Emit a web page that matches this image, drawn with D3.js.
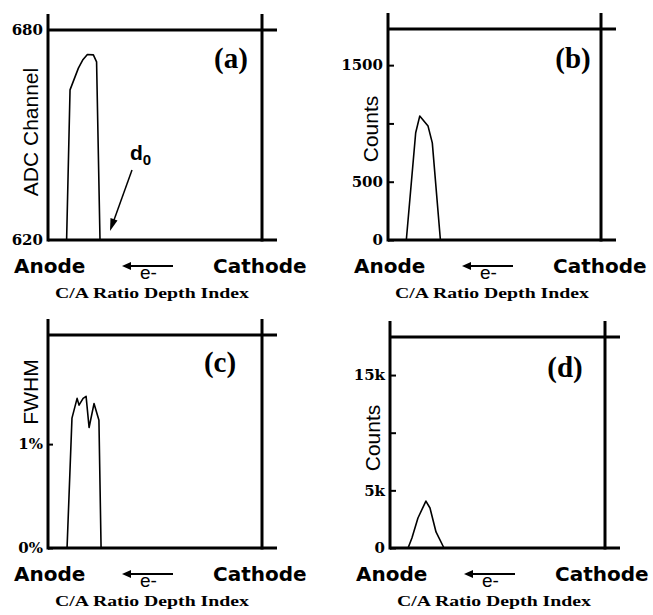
<!DOCTYPE html>
<html>
<head>
<meta charset="utf-8">
<script src="https://cdn.jsdelivr.net/npm/d3@7"></script>
<style>
body { margin: 0; background: #fff; }
</style>
</head>
<body>
<svg class="chart"></svg>
<script>
let width = 653,
  height = 615;

// depth index (0 = anode, 100 = cathode) and values
const depthA = [8.7, 10.3, 14.2, 16.2, 18.4, 21.2, 22.7, 24.3];
const adcA = [620, 662.9, 669.1, 671.4, 673.0, 672.9, 670.9, 620];

const depthB = [8.6, 13.0, 14.9, 18.8, 20.8, 24.6];
const countsB = [0, 920, 1063, 977, 833, 0];

const depthC = [8.9, 11.2, 13.6, 14.5, 16.4, 17.8, 19.2, 21.5, 23.8, 24.8];
const fwhmC = [0, 1.25, 1.44, 1.375, 1.44, 1.46, 1.16, 1.39, 1.23, 0];

const depthD = [4.7, 8.4, 10.2, 13.0, 16.7, 18.6, 21.4, 25.1];
const countsD = [0, 0, 870, 2600, 4070, 3470, 1390, 0];

const ticksA = [620, 680];
const ticksB = [0, 500, 1000, 1500];
const ticksC = [0, 1];
const ticksD = [0, 5000, 10000, 15000];

const labelsA = { 620: "620", 680: "680" };
const labelsB = { 0: "0", 500: "500", 1000: "", 1500: "1500" };
const labelsC = { 0: "0%", 1: "1%" };
const labelsD = { 0: "0", 5000: "5k", 10000: "", 15000: "15k" };

let svg = d3.select(".chart").attr("width", width).attr("height", height);

let panels = [
  { tag: "(a)", yTitle: "ADC Channel", xs: depthA, ys: adcA, domain: [620, 680],
    ticks: ticksA, labels: labelsA, tickLen: 0,
    left: 48, right: 262, top: 30, bottom: 240, titleY: 132, tagX: 183, tagY: 38 },
  { tag: "(b)", yTitle: "Counts", xs: depthB, ys: countsB, domain: [0, 1810],
    ticks: ticksB, labels: labelsB, tickLen: 6,
    left: 388, right: 601, top: 29, bottom: 240, titleY: 129, tagX: 185, tagY: 39 },
  { tag: "(c)", yTitle: "FWHM", xs: depthC, ys: fwhmC, domain: [0, 2.05],
    ticks: ticksC, labels: labelsC, tickLen: 5,
    left: 48, right: 262, top: 335, bottom: 548, titleY: 392, tagX: 172, tagY: 37 },
  { tag: "(d)", yTitle: "Counts", xs: depthD, ys: countsD, domain: [0, 18300],
    ticks: ticksD, labels: labelsD, tickLen: 6,
    left: 390, right: 605, top: 337, bottom: 548, titleY: 438, tagX: 175, tagY: 40 },
];

panels.forEach((p) => {
  let x = d3.scaleLinear().domain([0, 100]).range([p.left, p.right]);
  let y = d3.scaleLinear().domain(p.domain).range([p.bottom, p.top]);
  let g = svg.append("g");

  // y axis with inward ticks
  let axis = d3
    .axisLeft(y)
    .tickValues(p.ticks)
    .tickSizeInner(-p.tickLen)
    .tickSizeOuter(0)
    .tickPadding(5)
    .tickFormat((d) => p.labels[d]);
  let ax = g.append("g").attr("transform", `translate(${p.left},0)`).call(axis);
  ax.select(".domain").remove();
  ax.selectAll(".tick line").attr("stroke", "#000").attr("stroke-width", 2);
  ax.selectAll(".tick text")
    .attr("font-family", "DejaVu Serif, serif")
    .attr("font-weight", "bold")
    .attr("font-size", 15)
    .attr("fill", "#000");

  // frame lines (they run past the corners like the original)
  let frame = [
    [p.left, p.top - 16, p.left, p.bottom + 1.5],
    [p.left, p.bottom, p.right + 15, p.bottom],
    [p.left, p.top, p.right + 15, p.top],
    [p.right, p.top - 16, p.right, p.bottom + 1.5],
  ];
  g.selectAll(".frame")
    .data(frame)
    .enter()
    .append("line")
    .attr("x1", (d) => d[0])
    .attr("y1", (d) => d[1])
    .attr("x2", (d) => d[2])
    .attr("y2", (d) => d[3])
    .attr("stroke", "#000")
    .attr("stroke-width", 3);

  // the peak
  let line = d3
    .line()
    .x((d, i) => x(p.xs[i]))
    .y((d) => y(d));
  g.append("path")
    .attr("d", line(p.ys))
    .attr("fill", "none")
    .attr("stroke", "#000")
    .attr("stroke-width", 1.6)
    .attr("stroke-linejoin", "round");

  // panel tag
  g.append("text")
    .attr("x", p.left + p.tagX)
    .attr("y", p.top + p.tagY)
    .attr("text-anchor", "middle")
    .attr("font-family", "Liberation Serif, Times New Roman, serif")
    .attr("font-weight", "bold")
    .attr("font-size", 29)
    .text(p.tag);

  // y title
  g.append("text")
    .attr("transform", `translate(${p.left - 10},${p.titleY}) rotate(-90)`)
    .attr("text-anchor", "middle")
    .attr("font-family", "Liberation Sans, Arial, sans-serif")
    .attr("font-size", 21)
    .text(p.yTitle);

  // bottom labels
  let base = p.bottom;
  g.append("text")
    .attr("x", p.left - 34)
    .attr("y", base + 33)
    .attr("font-family", "DejaVu Sans, Verdana, sans-serif")
    .attr("font-weight", "bold")
    .attr("font-size", 20)
    .text("Anode");
  g.append("text")
    .attr("x", p.left + 165)
    .attr("y", base + 33)
    .attr("font-family", "DejaVu Sans, Verdana, sans-serif")
    .attr("font-weight", "bold")
    .attr("font-size", 20)
    .text("Cathode");
  g.append("line")
    .attr("x1", p.left + 125)
    .attr("y1", base + 26)
    .attr("x2", p.left + 80)
    .attr("y2", base + 26)
    .attr("stroke", "#000")
    .attr("stroke-width", 2);
  g.append("path")
    .attr("d", `M${p.left + 74},${base + 26} L${p.left + 83},${base + 22} L${p.left + 83},${base + 30} Z`)
    .attr("fill", "#000");
  g.append("text")
    .attr("x", p.left + 92)
    .attr("y", base + 39)
    .attr("font-family", "Liberation Sans, Arial, sans-serif")
    .attr("font-size", 19)
    .text("e-");
  g.append("text")
    .attr("x", p.left + 104)
    .attr("y", base + 58)
    .attr("text-anchor", "middle")
    .attr("font-family", "Liberation Serif, Times New Roman, serif")
    .attr("font-weight", "bold")
    .attr("font-size", 15)
    .attr("textLength", 194)
    .attr("lengthAdjust", "spacingAndGlyphs")
    .text("C/A Ratio Depth Index");
});

// d0 annotation on panel (a)
let d0 = svg.append("text")
  .attr("x", 130)
  .attr("y", 160)
  .attr("font-family", "Liberation Sans, Arial, sans-serif")
  .attr("font-weight", "bold")
  .attr("font-size", 21);
d0.append("tspan").text("d");
d0.append("tspan").attr("dy", 5).attr("font-size", 15).text("0");

svg.append("line")
  .attr("x1", 132)
  .attr("y1", 170)
  .attr("x2", 114)
  .attr("y2", 220)
  .attr("stroke", "#000")
  .attr("stroke-width", 1.5);
svg.append("path")
  .attr("d", "M110,231 L110.5,218 L117.5,220.5 Z")
  .attr("fill", "#000");
</script>
</body>
</html>
